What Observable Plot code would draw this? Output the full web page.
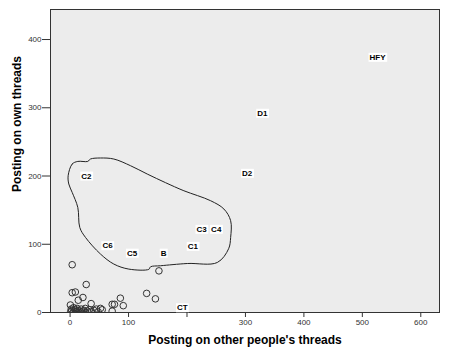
<!DOCTYPE html>
<html><head><meta charset="utf-8">
<script src="https://cdn.jsdelivr.net/npm/d3@7"></script>
<script src="https://cdn.jsdelivr.net/npm/@observablehq/plot@0.6"></script>
<style>body{margin:0;background:#fff}</style>
</head><body><div id="chart"></div>
<script>
// Labelled groups
const labelNames = ["HFY", "D1", "D2", "C2", "C3", "C4", "C1", "B", "C5", "C6", "CT"];
const labelX = [526, 329, 303, 28, 225, 250, 210, 160, 106, 64, 192];
const labelY = [374, 292, 204, 200, 122, 122, 97, 87, 87, 98, 7];

// Unlabelled individuals (open circles)
const circleX = [3.6, 3.6, 9, 27.6, 14, 22, 0.5, 36, 6, 52, 45,
  152, 131, 146, 86, 72, 76, 91, 72,
  1, 3, 5, 7, 9, 11, 13, 15, 17, 19, 21, 24, 27, 30, 33, 37, 41, 48, 2, 12, 26, 55];
const circleY = [70, 29, 30, 41, 18, 22, 11, 13, 7, 6, 5,
  61, 28, 20, 21, 12, 12, 10, 2,
  1, 3, 0, 2, 4, 1, 3, 0, 2, 5, 1, 3, 0, 2, 4, 1, 3, 1, 5, 6, 6, 4];

// Hand-drawn enclosing region (vertices)
const regionX = [-3.3, 3.6, 13.2, 30.3, 34.9, 52.1, 74.8, 103.4, 132, 163.4, 194.7, 240.4, 263.2, 274.7, 274.7, 271.2, 251.9, 200.5, 154.8, 137.7, 134.8, 100.5, 74.8, 52.1, 26.4, 16.6, 13.2, 3.6, -2.2];
const regionY = [200.4, 217.6, 221.4, 221.4, 224.9, 226.4, 224.9, 215.1, 202.9, 190.2, 178.4, 163.8, 151.6, 134.5, 110, 93.4, 73.3, 71.8, 68.5, 67, 63.3, 63.6, 71, 85.6, 110, 124.6, 154, 176, 188.3];

const xTicks = [0, 100, 200, 300, 400, 500, 600];
const yTicks = [0, 100, 200, 300, 400];
const xTitle = "Posting on other people's threads";
const yTitle = "Posting on own threads";

const labels = labelNames.map((n, i) => ({name: n, x: labelX[i], y: labelY[i]}));
const circles = circleX.map((x, i) => ({x, y: circleY[i]}));
const region = regionX.map((x, i) => ({x, y: regionY[i]}));

const svg = Plot.plot({
  width: 452,
  height: 362,
  marginLeft: 50,
  marginTop: 9,
  marginRight: 13,
  marginBottom: 50,
  style: {fontFamily: "'Liberation Sans', Arial, sans-serif", fontSize: "8px", color: "#333", background: "#fff"},
  x: {domain: [-33.5, 632]},
  y: {domain: [0, 444]},
  marks: [
    Plot.frame({fill: "#ececec", stroke: "#333"}),
    Plot.line(region, {x: "x", y: "y", curve: "catmull-rom-closed", stroke: "#222", strokeWidth: 1}),
    Plot.dot(circles, {x: "x", y: "y", r: 3.3, stroke: "#333", strokeWidth: 1, fill: "none", clip: true}),
    Plot.text(labels, {x: "x", y: "y", text: "name", fontWeight: "bold", fontSize: 8, fill: "#000"}),
    Plot.axisX({ticks: xTicks, tickSize: 5, tickPadding: 2, tickFormat: d => d === 200 ? "" : String(d), label: null, stroke: "#333"}),
    Plot.axisY({ticks: yTicks, tickSize: 8, tickPadding: 1, label: null, stroke: "#333"}),
    Plot.text([xTitle], {frameAnchor: "bottom", dy: 31, fontWeight: "bold", fontSize: 12, fill: "#000"}),
    Plot.text([yTitle], {frameAnchor: "left", rotate: -90, dx: -33, dy: 31, fontWeight: "bold", fontSize: 12, fill: "#000"})
  ]
});
document.getElementById("chart").append(svg);

// white boxes behind the point labels, sized from the rendered text
svg.querySelectorAll("text").forEach(t => {
  if (!labelNames.includes(t.textContent)) return;
  const b = t.getBBox();
  const r = document.createElementNS("http://www.w3.org/2000/svg", "rect");
  r.setAttribute("x", b.x - 1);
  r.setAttribute("y", b.y);
  r.setAttribute("width", b.width + 2);
  r.setAttribute("height", b.height);
  r.setAttribute("fill", "#fff");
  if (t.getAttribute("transform")) r.setAttribute("transform", t.getAttribute("transform"));
  t.parentNode.insertBefore(r, t);
});
</script>
</body></html>
